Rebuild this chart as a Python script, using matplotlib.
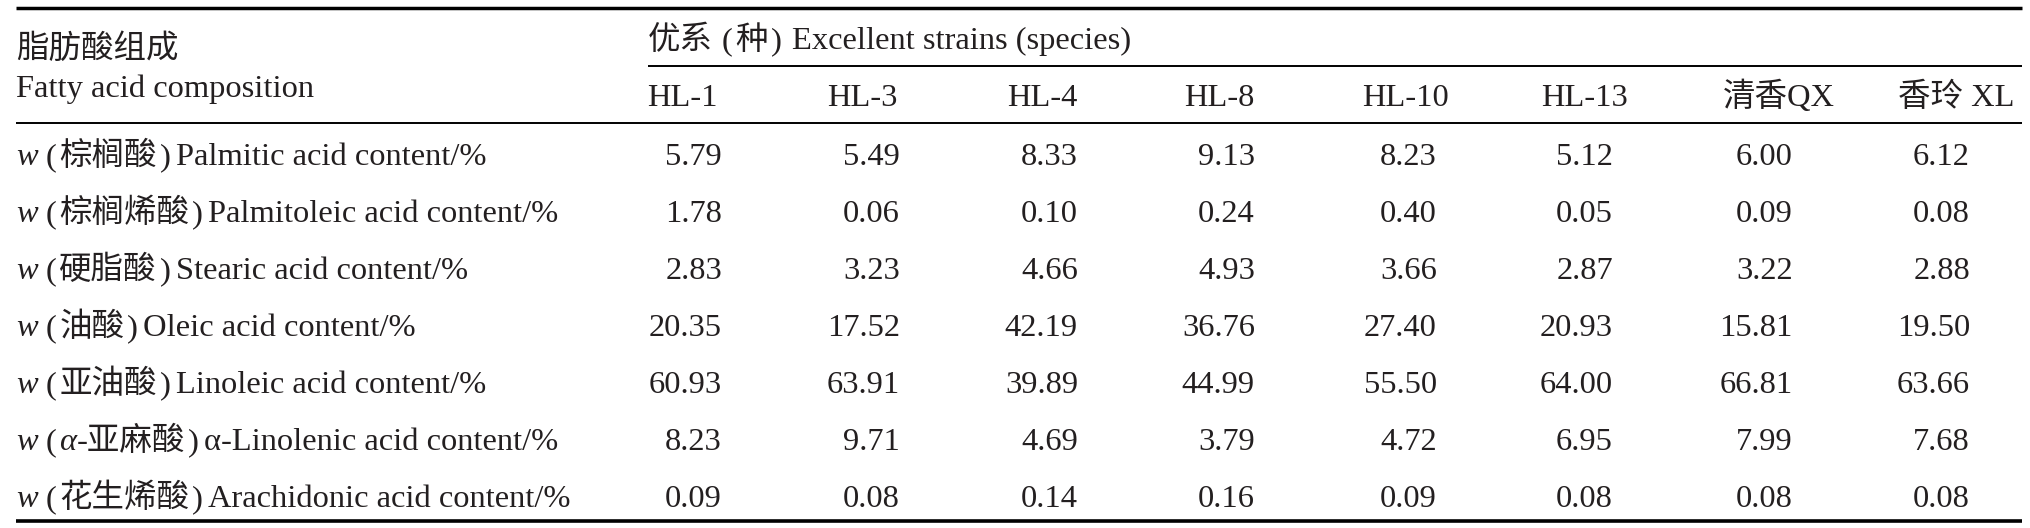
import matplotlib.pyplot as plt

# table content
strains = ["HL-1", "HL-3", "HL-4", "HL-8", "HL-10", "HL-13", "清香QX", "香玲 XL"]
acid_cn = ["棕榈酸", "棕榈烯酸", "硬脂酸", "油酸", "亚油酸", "α-亚麻酸", "花生烯酸"]
acid_en = ["Palmitic acid", "Palmitoleic acid", "Stearic acid", "Oleic acid",
           "Linoleic acid", "α-Linolenic acid", "Arachidonic acid"]

palmitic = [5.79, 5.49, 8.33, 9.13, 8.23, 5.12, 6.00, 6.12]
palmitoleic = [1.78, 0.06, 0.10, 0.24, 0.40, 0.05, 0.09, 0.08]
stearic = [2.83, 3.23, 4.66, 4.93, 3.66, 2.87, 3.22, 2.88]
oleic = [20.35, 17.52, 42.19, 36.76, 27.40, 20.93, 15.81, 19.50]
linoleic = [60.93, 63.91, 39.89, 44.99, 55.50, 64.00, 66.81, 63.66]
linolenic = [8.23, 9.71, 4.69, 3.79, 4.72, 6.95, 7.99, 7.68]
arachidonic = [0.09, 0.08, 0.14, 0.16, 0.09, 0.08, 0.08, 0.08]
rows = [palmitic, palmitoleic, stearic, oleic, linoleic, linolenic, arachidonic]

# layout (pixel coordinates, origin top-left)
W, H = 2030, 528
LEFT, RIGHT = 16, 2022
head_cx = [682, 862, 1042, 1219, 1406, 1585, 1779, 1956]
num_rx = [722, 900, 1078, 1255, 1437, 1613, 1793, 1970]
row_base0, row_step = 165, 57
FAM = ["Liberation Serif", "Noto Sans CJK SC"]
FS = 23.4
INK = "#231f20"

fig = plt.figure(figsize=(W / 100, H / 100), dpi=100)
ax = fig.add_axes([0, 0, 1, 1])
ax.set_xlim(0, W)
ax.set_ylim(H, 0)
ax.axis("off")
renderer = fig.canvas.get_renderer()


def put(x, y, s, ha="left", italic=False):
    return ax.text(x, y, s, ha=ha, va="baseline", fontsize=FS, family=FAM,
                   style="italic" if italic else "normal", color=INK)


def put_run(x, y, pieces):
    # pieces: (text, italic, gap in px after the piece)
    for s, it, gap in pieces:
        t = put(x, y, s, italic=it)
        x += t.get_window_extent(renderer).width + gap


# rules
ax.hlines(8, LEFT, RIGHT, color="black", lw=2.5)
ax.hlines(66, 648, RIGHT, color="black", lw=1.4)
ax.hlines(123, LEFT, RIGHT, color="black", lw=1.4)
ax.hlines(521, LEFT, RIGHT, color="black", lw=2.6)

# header
put(LEFT, 58, "脂肪酸组成")
put(LEFT, 97, "Fatty acid composition")
put_run(648, 49, [("优系", False, 9), ("(", False, 3), ("种", False, 3),
                  (")", False, 10), ("Excellent strains (species)", False, 0)])
for cx, name in zip(head_cx, strains):
    put(cx, 106, name, ha="center")

# body
for i, (cn, en, vals) in enumerate(zip(acid_cn, acid_en, rows)):
    y = row_base0 + i * row_step
    pieces = [("w", True, 8), ("(", False, 3)]
    if cn.startswith("α"):
        pieces += [("α", True, 0), (cn[1:], False, 3)]
    else:
        pieces += [(cn, False, 3)]
    pieces += [(")", False, 5), (en + " content/%", False, 0)]
    put_run(LEFT, y, pieces)
    for rx, v in zip(num_rx, vals):
        put(rx, y, f"{v:.2f}", ha="right")

fig.savefig("out.png", dpi=100)
